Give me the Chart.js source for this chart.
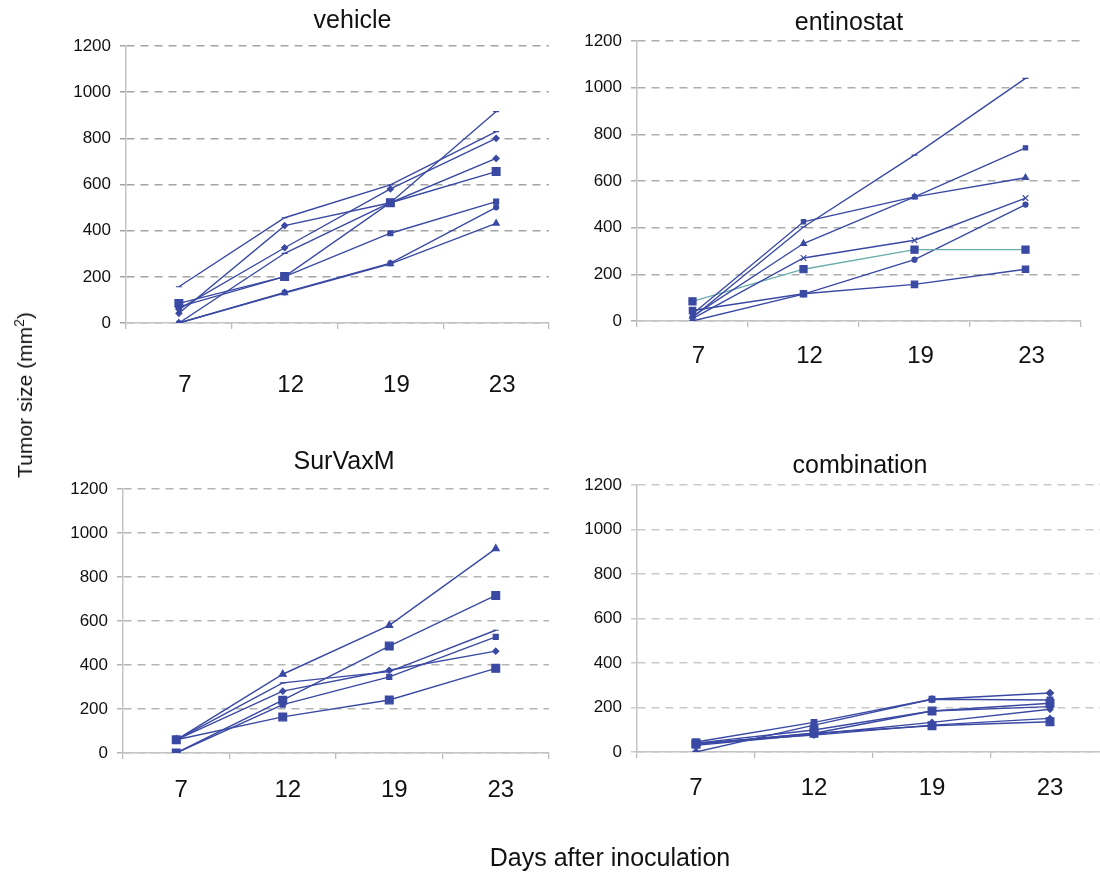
<!DOCTYPE html>
<html>
<head>
<meta charset="utf-8">
<script src="https://cdn.jsdelivr.net/npm/chart.js@4/dist/chart.umd.min.js"></script>
<style>
html,body{margin:0;padding:0;background:#fff;width:1100px;height:872px;overflow:hidden;position:relative;font-family:"Liberation Sans",Arial,sans-serif;}
.panel{position:absolute;}
#ytitle{position:absolute;left:25px;top:395px;transform:translate(-50%,-50%) rotate(-90deg);font-size:21px;white-space:nowrap;color:#111;}
#xtitle{position:absolute;left:610px;top:857px;transform:translate(-50%,-50%);font-size:25px;white-space:nowrap;color:#111;}
</style>
</head>
<body>
<div class="panel" id="w1" style="left:0;top:0;width:560px;height:420px"><canvas id="c1"></canvas></div>
<div class="panel" id="w2" style="left:560px;top:0;width:540px;height:420px"><canvas id="c2"></canvas></div>
<div class="panel" id="w3" style="left:0;top:430px;width:560px;height:430px"><canvas id="c3"></canvas></div>
<div class="panel" id="w4" style="left:560px;top:430px;width:560px;height:430px"><canvas id="c4"></canvas></div>
<div id="ytitle">Tumor size (mm<sup style="font-size:14px;vertical-align:8px;line-height:0">2</sup>)</div>
<div id="xtitle">Days after inoculation</div>
<script>
// ---- data ----
const days = ['7', '12', '19', '23'];
const yTicks = [0, 200, 400, 600, 800, 1000, 1200];
const panelTitles = ['vehicle', 'entinostat', 'SurVaxM', 'combination'];

const vehicle = [
  [157, 456, 598, 829],
  [42, 422, 521, 713],
  [60, 326, 581, 800],
  [0, 302, 521, 916],
  [85, 201, 521, 656],
  [70, 201, 389, 526],
  [0, 133, 259, 501],
  [0, 130, 256, 432]
];
const entinostat = [
  [15, 403, 711, 1040],
  [30, 425, 532, 742],
  [20, 332, 532, 614],
  [10, 270, 346, 527],
  [84, 222, 306, 306],
  [0, 115, 263, 499],
  [45, 117, 157, 222]
];
const survaxm = [
  [60, 358, 580, 929],
  [0, 240, 486, 716],
  [60, 319, 370, 558],
  [60, 281, 376, 463],
  [0, 220, 346, 528],
  [60, 164, 241, 385]
];
const combination = [
  [45, 133, 237, 234],
  [0, 121, 237, 265],
  [40, 99, 184, 219],
  [35, 84, 184, 204],
  [30, 80, 133, 192],
  [40, 76, 121, 151],
  [35, 84, 118, 136]
];

// ---- marker styles (style, radius) ----
const vehicleMarks = [['line',3],['rectRot',3],['rectRot',3],['line',3],['rect',5.5],['rect',3.5],['circle',2.5],['triangle',3.5]];
const entinostatMarks = [['line',3],['rect',3],['triangle',3.5],['crossRot',4],['rect',5],['circle',2.5],['rect',4.5]];
const survaxmMarks = [['triangle',4],['rect',5.5],['line',3],['rectRot',3],['rect',3.5],['rect',5.5]];
const combinationMarks = [['rect',4],['rectRot',3.5],['rect',5.5],['circle',3],['rectRot',3],['rectRot',3],['rect',5.5]];

const BLUE = '#3a49a3';
const TEAL = '#6aaeae';
Chart.defaults.font.family = '"Liberation Sans", Arial, sans-serif';
Chart.defaults.color = '#1a1a1a';
Chart.defaults.animation = false;

// shifts the built-in title horizontally
const titleShift = {
  id: 'titleShift',
  afterLayout(chart, args, opts) {
    const t = chart.titleBlock;
    if (t && opts && opts.dx) { t.left += opts.dx; t.right += opts.dx; }
  }
};
Chart.register(titleShift);

function build(canvasId, title, series, marks, lay, lineColors) {
  const datasets = series.map((vals, i) => ({
    data: vals,
    borderColor: (lineColors && lineColors[i]) || BLUE,
    borderWidth: 1.4,
    pointStyle: marks[i][0],
    pointRadius: marks[i][1],
    pointBackgroundColor: BLUE,
    pointBorderColor: BLUE,
    pointBorderWidth: 1.2,
    tension: 0,
    fill: false
  }));
  return new Chart(document.getElementById(canvasId), {
    type: 'line',
    data: { labels: days, datasets },
    options: {
      responsive: true,
      maintainAspectRatio: false,
      layout: { padding: { left: 0, right: lay.padR, top: 0, bottom: 0 } },
      plugins: {
        legend: { display: false },
        tooltip: { enabled: false },
        titleShift: { dx: lay.dx },
        title: {
          display: true, text: title, fullSize: false,
          font: { size: 25, weight: 'normal', lineHeight: 1.2 }, color: '#111',
          padding: { top: lay.tTop, bottom: lay.tBot }
        }
      },
      scales: {
        x: {
          offset: true,
          grid: { display: true, offset: true, drawOnChartArea: false, drawTicks: true, tickLength: 6, color: '#bdbdbd', lineWidth: 1.3 },
          border: { display: true, color: '#c4c4c4', width: 1.5 },
          ticks: { font: { size: 24 }, padding: lay.xPad, color: '#111', maxRotation: 0, labelOffset: lay.lo },
          afterFit: s => { s.height = lay.xH; }
        },
        y: {
          min: 0, max: 1200,
          afterBuildTicks: s => { s.ticks = yTicks.map(v => ({ value: v })); },
          grid: { color: lay.grid, lineWidth: 1.5, drawTicks: true, tickLength: 6, tickColor: lay.grid },
          border: { display: true, color: '#c4c4c4', width: 1.5, dash: [8, 6] },
          ticks: { font: { size: 17 }, padding: 9, color: '#111', callback: v => String(v) },
          afterFit: s => { s.width = lay.yW; }
        }
      }
    }
  });
}

build('c1', panelTitles[0], vehicle, vehicleMarks,
  { padR: 11, tTop: 6, tBot: 10, xH: 97, xPad: 41.6, yW: 126, grid: '#a4a4a4', dx: 15, lo: 6 });
build('c2', panelTitles[1], entinostat, entinostatMarks,
  { padR: 19, tTop: 8, tBot: 3, xH: 99, xPad: 14.6, yW: 77, grid: '#aeaeae', dx: -10, lo: 6 },
  [BLUE, BLUE, BLUE, BLUE, TEAL, BLUE, BLUE]);
build('c3', panelTitles[2], survaxm, survaxmMarks,
  { padR: 11, tTop: 17, tBot: 12, xH: 107, xPad: 16.6, yW: 123, grid: '#b4b4b4', dx: 8, lo: 5 });
build('c4', panelTitles[3], combination, combinationMarks,
  { padR: 11, tTop: 21, tBot: 4, xH: 108, xPad: 15.6, yW: 77, grid: '#cacaca', dx: -13, lo: 0 });
</script>
</body>
</html>
